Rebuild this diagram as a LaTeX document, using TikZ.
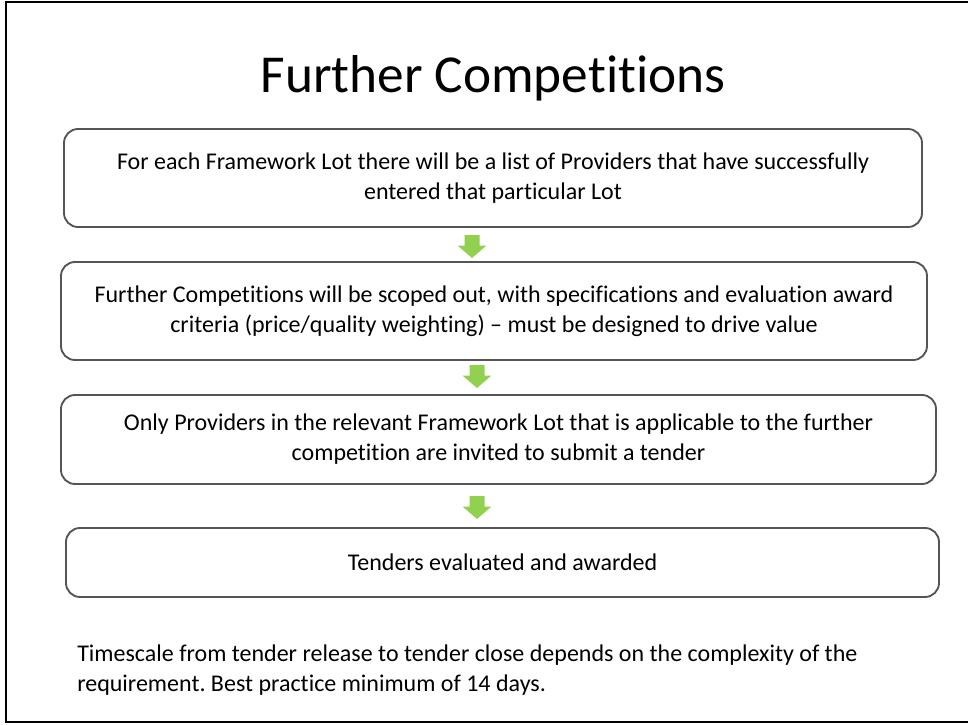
\documentclass[tikz,border=0pt]{standalone}
\usepackage{fontspec}
\setmainfont{Carlito}[Ligatures={NoCommon}]
\definecolor{arrowgreen}{RGB}{146,208,80}
\definecolor{boxline}{RGB}{85,85,85}
\frenchspacing
\begin{document}
\begin{tikzpicture}[x=0.75pt,y=-0.75pt,
  stagebox/.style={draw=boxline, line width=1.4pt, rounded corners=10.5pt,
    align=center, inner sep=0pt, fill=white,
    font=\fontsize{18}{22.5}\selectfont},
  downarrow/.style={fill=arrowgreen, draw=none}]
\useasboundingbox (0,0) rectangle (968,725);
\fill[white] (0,0) rectangle (968,725);
% outer frame (right side is off the picture)
\draw[black, line width=2.2pt] (968,2) -- (6,2) -- (6,722) -- (968,722);

\node[font=\fontsize{40}{48}\selectfont, anchor=base, inner sep=0pt] (title) at (493,92) {Further Competitions};

\node[stagebox, minimum width=643.5pt, minimum height=73.5pt] (b1) at (493,178)
  {For each Framework Lot there will be a list of Providers that have successfully\\entered that particular Lot};
\node[stagebox, minimum width=649.5pt, minimum height=73.5pt] (b2) at (494,311)
  {Further Competitions will be scoped out, with specifications and evaluation award\\criteria (price/quality weighting) -- must be designed to drive value};
\node[stagebox, minimum width=656.25pt, minimum height=66.75pt] (b3) at (498.5,439.5)
  {Only Providers in the relevant Framework Lot that is applicable to the further\\competition are invited to submit a tender};
\node[stagebox, minimum width=654.75pt, minimum height=51.75pt] (b4) at (502.5,562.5)
  {Tenders evaluated and awarded};

\coordinate (a1) at (472,246.5);
\coordinate (a2) at (477,376.5);
\coordinate (a3) at (477,507.5);
\foreach \c in {a1,a2,a3}{
  \fill[downarrow, shift={(\c)}] (-7.5,-11.5) -- (7.5,-11.5) -- (7.5,-1) -- (14.5,-1)
    -- (0,11.5) -- (-14.5,-1) -- (-7.5,-1) -- cycle;
}

\node[anchor=north west, align=left, inner sep=0pt,
  font=\fontsize{18}{22.5}\selectfont] (note) at (77,645)
  {Timescale from tender release to tender close depends on the complexity of the\\requirement. Best practice minimum of 14 days.};
\end{tikzpicture}
\end{document}
